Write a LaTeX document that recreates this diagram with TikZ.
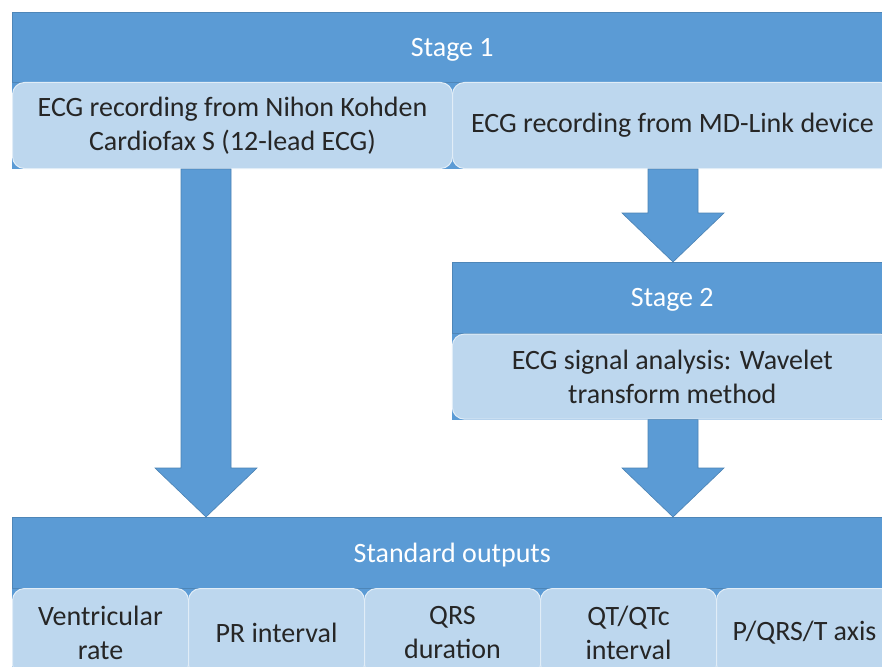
\documentclass[tikz,border=0pt]{standalone}
\usepackage{fontspec}
\setmainfont{Carlito}
\usetikzlibrary{positioning,calc,backgrounds}
\definecolor{hdblue}{RGB}{91,155,213}
\definecolor{hdline}{RGB}{65,113,156}
\definecolor{boxblue}{RGB}{189,215,238}

\tikzset{
  header/.style={draw=hdline!50!hdblue,fill=hdblue,line width=0.6pt,text=white,
                 anchor=north west,inner sep=0pt,text depth=0pt,
                 font=\fontsize{28}{34}\selectfont},
  item/.style={draw=white!55!boxblue,fill=boxblue,rounded corners=12pt,line width=1pt,
               align=center,anchor=north west,inner sep=0pt,text=black!85,
               font=\fontsize{28}{34}\selectfont},
  blockarrow/.style={fill=hdblue,draw=hdline!60!hdblue,line width=0.6pt}
}
\newcommand{\blockarr}[2]{%
  \path[blockarrow] let \p1=(#1),\p2=(#2) in
    (\x1-25pt,\y1) -- (\x1-25pt,\y2+49pt) -- (\x1-51pt,\y2+49pt) -- (\x1,\y2)
    -- (\x1+51pt,\y2+49pt) -- (\x1+25pt,\y2+49pt) -- (\x1+25pt,\y1) -- cycle;}

\begin{document}
\begin{tikzpicture}[x=1pt,y=-1pt]
  \clip (0,0) rectangle (882,666);
  % stage 1
  \node[header,minimum width=880pt,minimum height=70pt] (stage1) at (12,12) {Stage 1};
  \node[item,minimum width=440pt,minimum height=86pt] (nihon) at (12,82)
        {ECG recording from Nihon Kohden\\Cardiofax S (12-lead ECG)};
  \node[item,minimum width=440pt,minimum height=86pt,anchor=north west] (mdlink) at (452,82)
        {ECG recording from MD-Link device};
  % stage 2
  \node[header,minimum width=440pt,minimum height=71pt] (stage2) at (452,262) {Stage 2};
  \node[item,minimum width=440pt,minimum height=85pt,below=0pt of stage2] (wavelet)
        {ECG signal analysis: Wavelet\\transform method};
  % outputs
  \node[header,minimum width=880pt,minimum height=71pt] (outputs) at (12,517) {Standard outputs};
  \node[item,minimum width=176pt,minimum height=88pt] (vrate) at (12,588) {Ventricular\\rate};
  \node[item,minimum width=176pt,minimum height=88pt] (print) at (188,588) {PR interval};
  \node[item,minimum width=176pt,minimum height=88pt] (qrsdur) at (364,588) {QRS\\duration};
  \node[item,minimum width=176pt,minimum height=88pt] (qtint) at (540,588) {QT/QTc\\interval};
  \node[item,minimum width=176pt,minimum height=88pt] (axis) at (716,588) {P/QRS/T axis};

  \begin{scope}[on background layer]
    \fill[hdblue] (stage1.south west) rectangle (mdlink.south east);
    \fill[hdblue] (stage2.south west) rectangle (wavelet.south east);
    \fill[hdblue] (outputs.south west) rectangle (axis.south east);
  \end{scope}

  % arrows
  \coordinate (colL) at (206,0);
  \coordinate (colR) at (673,0);
  \blockarr{nihon.south -| colL}{outputs.north -| colL}
  \blockarr{mdlink.south -| colR}{stage2.north -| colR}
  \blockarr{wavelet.south -| colR}{outputs.north -| colR}
\end{tikzpicture}
\end{document}
